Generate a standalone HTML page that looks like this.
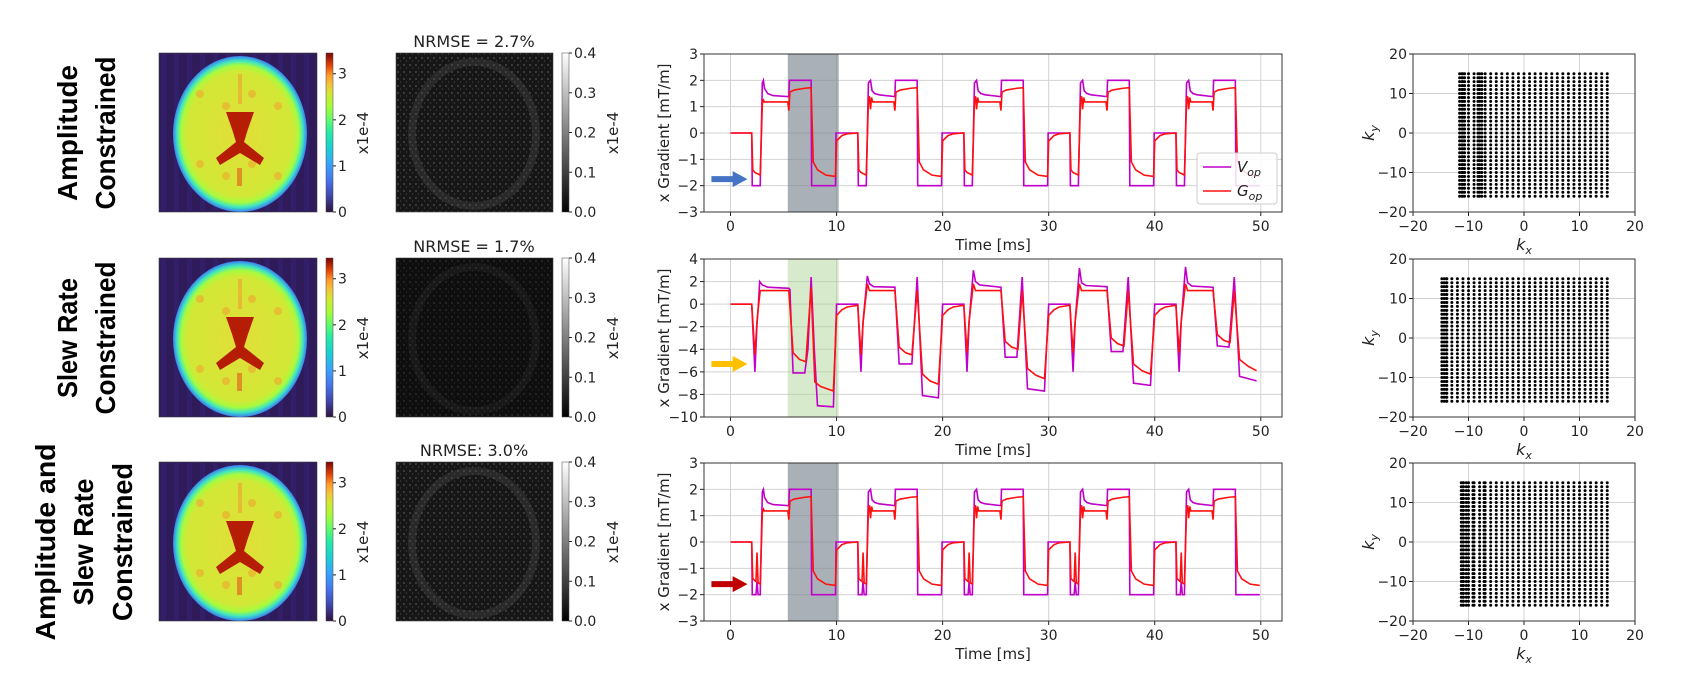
<!DOCTYPE html>
<html><head><meta charset="utf-8">
<style>
html,body{margin:0;padding:0;background:#fff;}
svg{display:block;font-family:"DejaVu Sans","Liberation Sans",sans-serif;}
.rl{font-family:"Liberation Sans",sans-serif;font-weight:bold;font-size:28px;fill:#000;}
.tk{font-size:14px;fill:#222;}
.lab{font-size:15px;fill:#222;}
</style></head>
<body>
<svg id="fig" width="1682" height="680" viewBox="0 0 1682 680" xmlns="http://www.w3.org/2000/svg">
<defs>
<linearGradient id="turbo" x1="0" y1="1" x2="0" y2="0">
<stop offset="0" stop-color="#30123b"/><stop offset="0.1" stop-color="#4145ab"/><stop offset="0.2" stop-color="#4675ed"/><stop offset="0.3" stop-color="#39a2fc"/><stop offset="0.4" stop-color="#1bcfd4"/><stop offset="0.5" stop-color="#24eca6"/><stop offset="0.58" stop-color="#61fc6c"/><stop offset="0.66" stop-color="#a4fc3b"/><stop offset="0.74" stop-color="#d1e834"/><stop offset="0.8" stop-color="#f3c63a"/><stop offset="0.86" stop-color="#fe9b2d"/><stop offset="0.92" stop-color="#e4460a"/><stop offset="1" stop-color="#7a0403"/>
</linearGradient>
<linearGradient id="gray" x1="0" y1="1" x2="0" y2="0"><stop offset="0" stop-color="#000"/><stop offset="1" stop-color="#fff"/></linearGradient>
<radialGradient id="brainG" cx="0.5" cy="0.5" r="0.5">
<stop offset="0" stop-color="#e2de38"/><stop offset="0.8" stop-color="#d2e836"/><stop offset="0.88" stop-color="#a6fb40"/><stop offset="0.94" stop-color="#3fe7c0"/><stop offset="1" stop-color="#3a7ef0"/>
</radialGradient>
<pattern id="noise" width="6" height="7" patternUnits="userSpaceOnUse">
<rect width="6" height="7" fill="#161616"/><rect x="1" y="1" width="2" height="2" fill="#3a3a3a"/><rect x="4" y="4" width="1" height="2" fill="#333"/>
</pattern>
<pattern id="noise2" width="6" height="7" patternUnits="userSpaceOnUse">
<rect width="6" height="7" fill="#0e0e0e"/><rect x="1" y="1" width="2" height="2" fill="#242424"/><rect x="4" y="4" width="1" height="2" fill="#1f1f1f"/>
</pattern>
</defs>
<g id="root"></g>
</svg>
<script>
// ---------- data ----------
const rowLabels = [["Amplitude","Constrained"],["Slew Rate","Constrained"],["Amplitude and","Slew Rate","Constrained"]];
const rowLabelLens = [[136,153],[120,153],[197,127,158]];
const nrmseTitles = ["NRMSE = 2.7%","NRMSE = 1.7%","NRMSE: 3.0%"];
const brainTicks = ["0","1","2","3"];
const brainTickVals = [0,1,2,3];
const errTicks = ["0.0","0.1","0.2","0.3","0.4"];
const errTickVals = [0,0.1,0.2,0.3,0.4];
const timeTicks = [0,10,20,30,40,50];
const yTicksA = [-3,-2,-1,0,1,2,3];
const yTicksS = [-10,-8,-6,-4,-2,0,2,4];
const kTicks = [-20,-10,0,10,20];
const shadeStart = [5.4,5.4,5.4];
const shadeEnd = [10.2,10.2,10.2];
const arrowLevel = [-1.75,-5.3,-1.6];

// Row 1: amplitude constrained
const r1VT = [0,2,2.05,2.8,3.0,3.1,3.2,3.5,4,5.5,5.55,7.6,7.65,9.9,9.95,
 12,12.05,12.8,13.0,13.2,13.35,13.6,14,15.5,15.55,17.6,17.65,19.9,19.95,
 22,22.05,22.8,23.0,23.2,23.35,23.6,24,25.5,25.55,27.6,27.65,29.9,29.95,
 32,32.05,32.8,33.0,33.2,33.35,33.6,34,35.5,35.55,37.6,37.65,39.9,39.95,
 42,42.05,42.8,43.0,43.2,43.35,43.6,44,45.5,45.55,47.6,47.65,49.9];
const r1VV = [0,0,-2,-2,1.9,2,1.7,1.5,1.42,1.38,2,2,-2,-2,0,
 0,-2,-2,1.9,2,1.6,1.5,1.45,1.38,2,2,-2,-2,0,
 0,-2,-2,1.9,2,1.6,1.5,1.45,1.38,2,2,-2,-2,0,
 0,-2,-2,1.9,2,1.6,1.5,1.45,1.38,2,2,-2,-2,0,
 0,-2,-2,1.9,2,1.6,1.5,1.45,1.38,2,2,-2,-2];
const r1GT = [0,2,2.1,2.3,2.8,3.0,3.1,3.2,5.4,5.5,5.6,6,7,7.6,7.8,8.2,9,9.9,10,10.5,11,
 12,12.1,12.3,12.8,13.0,13.1,13.2,13.3,13.4,15.4,15.5,15.6,16,17,17.6,17.8,18.2,19,19.9,20,20.5,21,
 22,22.1,22.3,22.8,23.0,23.1,23.2,23.3,23.4,25.4,25.5,25.6,26,27,27.6,27.8,28.2,29,29.9,30,30.5,31,
 32,32.1,32.3,32.8,33.0,33.1,33.2,33.3,33.4,35.4,35.5,35.6,36,37,37.6,37.8,38.2,39,39.9,40,40.5,41,
 42,42.1,42.3,42.8,43.0,43.1,43.2,43.3,43.4,45.4,45.5,45.6,46,47,47.6,47.8,48.2,49,49.9];
const r1GV = [0,0,-1.4,-1.5,-1.6,1.1,1.25,1.18,1.18,0.85,1.55,1.63,1.7,1.72,-1.1,-1.4,-1.6,-1.65,-0.3,-0.1,-0.03,
 0,-1.4,-1.5,-1.6,1.2,1.4,0.9,1.35,1.18,1.18,0.85,1.55,1.63,1.7,1.72,-1.1,-1.4,-1.6,-1.65,-0.3,-0.1,-0.03,
 0,-1.4,-1.5,-1.6,1.2,1.4,0.9,1.35,1.18,1.18,0.85,1.55,1.63,1.7,1.72,-1.1,-1.4,-1.6,-1.65,-0.3,-0.1,-0.03,
 0,-1.4,-1.5,-1.6,1.2,1.4,0.9,1.35,1.18,1.18,0.85,1.55,1.63,1.7,1.72,-1.1,-1.4,-1.6,-1.65,-0.3,-0.1,-0.03,
 0,-1.4,-1.5,-1.6,1.2,1.4,0.9,1.35,1.18,1.18,0.85,1.55,1.63,1.7,1.72,-1.1,-1.4,-1.6,-1.65];

// Row 2: slew rate constrained
const r2VT = [0,2,2.3,2.5,2.6,2.75,3,3.5,5.5,5.6,5.9,7.0,7.3,7.6,7.9,8.2,9.7,10,
 12,12.3,12.5,12.9,13.1,13.5,15.5,15.9,17.1,17.6,18.1,19.6,20,
 22,22.3,22.5,22.9,23.1,23.5,25.5,25.9,27.0,27.5,28.0,29.6,30,
 32,32.3,32.5,32.9,33.1,33.5,35.5,35.9,37.0,37.5,38.0,39.6,40,
 42,42.3,42.5,42.9,43.1,43.5,45.5,45.9,47.0,47.5,48.0,49.6];
const r2VV = [0,0,-6,-1.7,-0.5,2.0,1.7,1.5,1.4,1.3,-6.1,-6.1,-4,2.4,-4,-9,-9.1,0,
 0,-6,-1.5,2.5,1.8,1.55,1.5,-5.3,-5.3,2.4,-8.1,-8.3,0,
 0,-6,-1.5,3.0,2.0,1.7,1.5,-4.7,-4.7,2.4,-7.5,-7.7,0,
 0,-6,-1.5,3.2,1.9,1.65,1.55,-4.2,-4.2,2.4,-7.0,-7.2,0,
 0,-6,-1.5,3.3,1.9,1.6,1.5,-3.7,-3.8,2.4,-6.4,-6.8];
const r2GT = [0,2,2.3,2.5,2.6,2.8,5.5,5.9,6.5,7.1,7.6,7.95,8.5,9.7,10,10.5,11,
 12,12.3,12.5,12.9,13.1,15.5,15.9,16.5,17.1,17.6,18.1,18.8,19.6,20,20.5,21,
 22,22.3,22.5,22.9,23.1,25.5,25.9,26.5,27.1,27.5,28.0,28.8,29.6,30,30.5,31,
 32,32.3,32.5,32.9,33.1,35.5,35.9,36.5,37.1,37.5,38.0,38.8,39.6,40,40.5,41,
 42,42.3,42.5,42.9,43.1,45.5,45.9,46.5,47.1,47.5,48.0,48.8,49.6];
const r2GV = [0,0,-4.5,-1.5,-0.5,1.2,1.2,-4.3,-4.9,-5.1,1.5,-6.9,-7.3,-7.7,-1,-0.5,-0.25,
 -0.1,-4.5,-1.6,1.8,1.2,1.2,-3.8,-4.3,-4.5,1.2,-6.2,-6.8,-7.1,-1,-0.5,-0.25,
 -0.1,-4.3,-1.5,1.8,1.2,1.2,-3.3,-3.8,-4.0,1.2,-5.7,-6.3,-6.6,-1,-0.5,-0.25,
 -0.1,-4.3,-1.5,1.8,1.2,1.2,-3.0,-3.5,-3.7,1.2,-5.3,-5.9,-6.2,-1,-0.5,-0.25,
 -0.1,-4.3,-1.5,1.8,1.2,1.2,-2.7,-3.2,-3.4,1.2,-4.9,-5.5,-5.9];

// Row 3: amplitude and slew rate constrained
const r3VT = [0,2,2.05,2.4,2.5,2.6,2.8,3.0,3.1,3.2,3.5,4,5.5,5.55,7.6,7.65,9.9,9.95,
 12,12.05,12.4,12.5,12.6,12.8,13.0,13.2,13.35,13.6,14,15.5,15.55,17.6,17.65,19.9,19.95,
 22,22.05,22.4,22.5,22.6,22.8,23.0,23.2,23.35,23.6,24,25.5,25.55,27.6,27.65,29.9,29.95,
 32,32.05,32.4,32.5,32.6,32.8,33.0,33.2,33.35,33.6,34,35.5,35.55,37.6,37.65,39.9,39.95,
 42,42.05,42.4,42.5,42.6,42.8,43.0,43.2,43.35,43.6,44,45.5,45.55,47.6,47.65,49.9];
const r3VV = [0,0,-2,-2,-1.5,-2,-2,1.9,2,1.7,1.5,1.42,1.38,2,2,-2,-2,0,
 0,-2,-2,-1.5,-2,-2,1.9,2,1.6,1.5,1.45,1.38,2,2,-2,-2,0,
 0,-2,-2,-1.5,-2,-2,1.9,2,1.6,1.5,1.45,1.38,2,2,-2,-2,0,
 0,-2,-2,-1.5,-2,-2,1.9,2,1.6,1.5,1.45,1.38,2,2,-2,-2,0,
 0,-2,-2,-1.5,-2,-2,1.9,2,1.6,1.5,1.45,1.38,2,2,-2,-2];
const r3GT = [0,2,2.1,2.4,2.5,2.6,2.8,3.0,3.1,3.2,5.4,5.5,5.6,6,7,7.6,7.8,8.2,9,9.9,10,10.5,11,
 12,12.1,12.4,12.5,12.6,12.8,13.0,13.1,13.2,13.3,13.4,15.4,15.5,15.6,16,17,17.6,17.8,18.2,19,19.9,20,20.5,21,
 22,22.1,22.4,22.5,22.6,22.8,23.0,23.1,23.2,23.3,23.4,25.4,25.5,25.6,26,27,27.6,27.8,28.2,29,29.9,30,30.5,31,
 32,32.1,32.4,32.5,32.6,32.8,33.0,33.1,33.2,33.3,33.4,35.4,35.5,35.6,36,37,37.6,37.8,38.2,39,39.9,40,40.5,41,
 42,42.1,42.4,42.5,42.6,42.8,43.0,43.1,43.2,43.3,43.4,45.4,45.5,45.6,46,47,47.6,47.8,48.2,49,49.9];
const r3GV = [0,0,-1.4,-1.5,-0.4,-1.55,-1.6,1.1,1.25,1.18,1.18,0.85,1.55,1.63,1.7,1.72,-1.1,-1.4,-1.6,-1.65,-0.3,-0.1,-0.03,
 0,-1.4,-1.5,-0.4,-1.55,-1.6,1.2,1.4,0.9,1.35,1.18,1.18,0.85,1.55,1.63,1.7,1.72,-1.1,-1.4,-1.6,-1.65,-0.3,-0.1,-0.03,
 0,-1.4,-1.5,-0.4,-1.55,-1.6,1.2,1.4,0.9,1.35,1.18,1.18,0.85,1.55,1.63,1.7,1.72,-1.1,-1.4,-1.6,-1.65,-0.3,-0.1,-0.03,
 0,-1.4,-1.5,-0.4,-1.55,-1.6,1.2,1.4,0.9,1.35,1.18,1.18,0.85,1.55,1.63,1.7,1.72,-1.1,-1.4,-1.6,-1.65,-0.3,-0.1,-0.03,
 0,-1.4,-1.5,-0.4,-1.55,-1.6,1.2,1.4,0.9,1.35,1.18,1.18,0.85,1.55,1.63,1.7,1.72,-1.1,-1.4,-1.6,-1.65];

// k-space sampling grid
const kxCols = [-11,-10,-9,-8,-7,-6,-5,-4,-3,-2,-1,0,1,2,3,4,5,6,7,8,9,10,11,12,13,14,15];
const kyRows = [-16,-15,-14,-13,-12,-11,-10,-9,-8,-7,-6,-5,-4,-3,-2,-1,0,1,2,3,4,5,6,7,8,9,10,11,12,13,14,15];
const kxLeftEdge = [-12,-15,-11.5];
const kxDenseCols = [[-11.6,-11.2,-10.7,-8.3,-7.6],[-14.8,-14.4,-13.9],[-11.3,-10.9,-10.4,-9.2,-7.2]];

// ---------- layout ----------
const rowTop = [54,259,463];
const H = 158;
const gx0 = 704, gx1 = 1282, tMin = -2.5, tMax = 52.0;
const kx0 = 1413, kx1 = 1635;
const NS = "http://www.w3.org/2000/svg";
const root = document.getElementById('root');
function el(tag, attrs, parent, text){
  const e = document.createElementNS(NS, tag);
  for (const k in attrs) e.setAttribute(k, attrs[k]);
  if (text !== undefined) e.textContent = text;
  (parent || root).appendChild(e);
  return e;
}
function xT(t){ return gx0 + (t - tMin) / (tMax - tMin) * (gx1 - gx0); }
function yG(v, r, lo, hi){ return rowTop[r] + H - (v - lo) / (hi - lo) * H; }
function xK(k){ return kx0 + (k + 20) / 40 * (kx1 - kx0); }
function yK(k, r){ return rowTop[r] + H - (k + 20) / 40 * H; }

const series = [[r1VT,r1VV,r1GT,r1GV],[r2VT,r2VV,r2GT,r2GV],[r3VT,r3VV,r3GT,r3GV]];
const arrowColors = ["#4472c4","#ffc000","#c00000"];
const shadeColors = ["#7d8590","#a9d08e","#7d8590"];
const shadeOpac = [0.65,0.45,0.65];

for (let r = 0; r < 3; r++){
  const top = rowTop[r];
  const g = el('g', {});
  
  

  const lines = rowLabels[r];
  const lx = lines.length === 2 ? [67,105] : [45,83,122];
  const cy = top + 79;
  lines.forEach((ln, i) => {
    const t = el('text', {class:'rl', x:0, y:0, transform:`translate(${lx[i]+10},${cy}) rotate(-90)`, 'text-anchor':'middle', textLength: rowLabelLens[r][i], lengthAdjust:'spacingAndGlyphs'}, g, ln);
    
    
  });

  // brain image
  const bg = el('g', {}, g);
  
  
  el('rect', {x:159, y:top-1, width:158, height:159, fill:'#2f1a5a', stroke:'#444', 'stroke-width':0.6}, bg);
  for (let i = 0; i < 12; i++) el('rect', {x:161 + i*13, y:top, width:5, height:157, fill:'#3a2c86', opacity:0.35}, bg);
  el('ellipse', {cx:240, cy:top+80, rx:67, ry:78, fill:'url(#brainG)'}, bg);
  for (let i = 0; i < 8; i++) el('circle', {cx:200 + (i%4)*26, cy:top+40 + Math.floor(i/4)*70 + (i%2)*12, r:4, fill:'#f0a030', opacity:0.55}, bg);
  el('path', {d:`M226 ${top+58} L254 ${top+58} L248 ${top+75} L244 ${top+88} L264 ${top+104} L260 ${top+111} L240 ${top+99} L220 ${top+111} L216 ${top+104} L236 ${top+88} L232 ${top+75} Z`, fill:'#b51d05'}, bg);
  el('rect', {x:237, y:top+114, width:5, height:18, fill:'#e07a20', opacity:0.8}, bg);
  el('rect', {x:238, y:top+20, width:4, height:30, fill:'#efa030', opacity:0.6}, bg);

  const cb = el('g', {}, g);
  
  
  el('rect', {x:326, y:top-1, width:7, height:159, fill:'url(#turbo)', stroke:'#444', 'stroke-width':0.5}, cb);
  brainTickVals.forEach((v, i) => {
    const y = top + 158 - v / 3.45 * 159;
    el('line', {x1:333, x2:336, y1:y, y2:y, stroke:'#222'}, cb);
    el('text', {class:'tk', x:338, y:y+5}, cb, brainTicks[i]);
  });
  el('text', {class:'lab', x:0, y:0, transform:`translate(368,${top+79}) rotate(-90)`, 'text-anchor':'middle'}, cb, 'x1e-4');

  // error image
  const eg = el('g', {}, g);
  
  
  el('rect', {x:396, y:top-1, width:157, height:159, fill: r===1 ? 'url(#noise2)' : 'url(#noise)', stroke:'#444', 'stroke-width':0.6}, eg);
  el('ellipse', {cx:474, cy:top+80, rx:62, ry:72, fill:'none', stroke:'#555', 'stroke-width':8, opacity: r===1 ? 0.15 : 0.3}, eg);
  const et = el('text', {x:474, y:top-7, 'text-anchor':'middle', 'font-size':16, fill:'#222'}, g, nrmseTitles[r]);
  
  

  const ecb = el('g', {}, g);
  
  
  el('rect', {x:562, y:top-1, width:7, height:159, fill:'url(#gray)', stroke:'#444', 'stroke-width':0.5}, ecb);
  errTickVals.forEach((v, i) => {
    const y = top + 158 - v / 0.4 * 159;
    el('line', {x1:569, x2:572, y1:y, y2:y, stroke:'#222'}, ecb);
    el('text', {class:'tk', x:574, y:y+5}, ecb, errTicks[i]);
  });
  el('text', {class:'lab', x:0, y:0, transform:`translate(618,${top+79}) rotate(-90)`, 'text-anchor':'middle'}, ecb, 'x1e-4');

  // gradient chart
  const lo = r === 1 ? -10 : -3, hi = r === 1 ? 4 : 3;
  const yt = r === 1 ? yTicksS : yTicksA;
  const gc = el('g', {}, g);
  
  
  timeTicks.forEach(t => {
    el('line', {x1:xT(t), x2:xT(t), y1:top, y2:top+H, stroke:'#d3d3d3', 'stroke-width':1}, gc);
    el('line', {x1:xT(t), x2:xT(t), y1:top+H, y2:top+H+4, stroke:'#222'}, gc);
    el('text', {class:'tk', x:xT(t), y:top+H+19, 'text-anchor':'middle'}, gc, String(t));
  });
  yt.forEach(v => {
    const y = yG(v, r, lo, hi);
    el('line', {x1:gx0, x2:gx1, y1:y, y2:y, stroke:'#d3d3d3', 'stroke-width':1}, gc);
    el('line', {x1:gx0-4, x2:gx0, y1:y, y2:y, stroke:'#222'}, gc);
    el('text', {class:'tk', x:gx0-6, y:y+5, 'text-anchor':'end'}, gc, String(v).replace('-', '\u2212'));
  });
  const sh = el('rect', {x:xT(shadeStart[r]), y:top, width:xT(shadeEnd[r])-xT(shadeStart[r]), height:H, fill:shadeColors[r], opacity:shadeOpac[r]}, gc);
  
  
  const [vt, vv, gt, gv] = series[r];
  const vPath = el('polyline', {points: vt.map((t,i)=>xT(t)+','+yG(vv[i],r,lo,hi)).join(' '), fill:'none', stroke:'#c000c8', 'stroke-width':1.6}, gc);
  
  
  const gPath = el('polyline', {points: gt.map((t,i)=>xT(t)+','+yG(gv[i],r,lo,hi)).join(' '), fill:'none', stroke:'#ff1010', 'stroke-width':1.6}, gc);
  
  
  const ay = yG(arrowLevel[r], r, lo, hi);
  const ar = el('polygon', {points:`${xT(-1.8)},${ay-3} ${xT(0.2)},${ay-3} ${xT(0.2)},${ay-8} ${xT(1.6)},${ay} ${xT(0.2)},${ay+8} ${xT(0.2)},${ay+3} ${xT(-1.8)},${ay+3}`, fill:arrowColors[r]}, gc);
  
  
  el('rect', {x:gx0, y:top, width:gx1-gx0, height:H, fill:'none', stroke:'#333', 'stroke-width':1}, gc);
  el('text', {class:'lab', x:0, y:0, transform:`translate(669,${top+79}) rotate(-90)`, 'text-anchor':'middle'}, gc, 'x Gradient [mT/m]');
  el('text', {class:'lab', x:(gx0+gx1)/2, y:top+H+38, 'text-anchor':'middle'}, gc, 'Time [ms]');

  if (r === 0){
    const lg = el('g', {}, gc);
    
    
    el('rect', {x:1197, y:top+99, width:80, height:51, rx:3, fill:'#fff', 'fill-opacity':0.85, stroke:'#ccc'}, lg);
    el('line', {x1:1203, x2:1231, y1:top+113, y2:top+113, stroke:'#c000c8', 'stroke-width':1.6}, lg);
    el('line', {x1:1203, x2:1231, y1:top+137, y2:top+137, stroke:'#ff1010', 'stroke-width':1.6}, lg);
    const l1 = el('text', {x:1237, y:top+118, 'font-size':15, fill:'#222', 'font-style':'italic'}, lg);
    
    
    el('tspan', {}, l1, 'V');
    el('tspan', {dy:4, 'font-size':11}, l1, 'op');
    const l2 = el('text', {x:1237, y:top+142, 'font-size':15, fill:'#222', 'font-style':'italic'}, lg);
    
    
    el('tspan', {}, l2, 'G');
    el('tspan', {dy:4, 'font-size':11}, l2, 'op');
  }

  // k-space chart
  const kc = el('g', {}, g);
  
  
  kTicks.forEach(k => {
    el('line', {x1:xK(k), x2:xK(k), y1:top, y2:top+H, stroke:'#d3d3d3'}, kc);
    el('line', {x1:kx0, x2:kx1, y1:yK(k,r), y2:yK(k,r), stroke:'#d3d3d3'}, kc);
    el('line', {x1:xK(k), x2:xK(k), y1:top+H, y2:top+H+4, stroke:'#222'}, kc);
    el('line', {x1:kx0-4, x2:kx0, y1:yK(k,r), y2:yK(k,r), stroke:'#222'}, kc);
    el('text', {class:'tk', x:xK(k), y:top+H+19, 'text-anchor':'middle'}, kc, String(k).replace('-', '\u2212'));
    el('text', {class:'tk', x:kx0-6, y:yK(k,r)+5, 'text-anchor':'end'}, kc, String(k).replace('-', '\u2212'));
  });
  const cols = kxCols.filter(k => k >= kxLeftEdge[r]).concat(r === 1 ? [-14,-13,-12] : []).concat(kxDenseCols[r]);
  cols.forEach(kx => {
    kyRows.forEach(ky => {
      const d = el('circle', {cx:xK(kx), cy:yK(ky,r), r:1.5, fill:'#000'}, kc);
      
      
    });
  });
  el('rect', {x:kx0, y:top, width:kx1-kx0, height:H, fill:'none', stroke:'#333'}, kc);
  const kxl = el('text', {x:(kx0+kx1)/2, y:top+H+38, 'text-anchor':'middle', 'font-size':16, 'font-style':'italic', fill:'#222'}, kc);
  el('tspan', {}, kxl, 'k');
  el('tspan', {dy:4, 'font-size':11}, kxl, 'x');
  const kyl = el('text', {x:0, y:0, transform:`translate(1374,${top+79}) rotate(-90)`, 'text-anchor':'middle', 'font-size':16, 'font-style':'italic', fill:'#222'}, kc);
  el('tspan', {}, kyl, 'k');
  el('tspan', {dy:4, 'font-size':11}, kyl, 'y');
}
</script>
</body></html>
